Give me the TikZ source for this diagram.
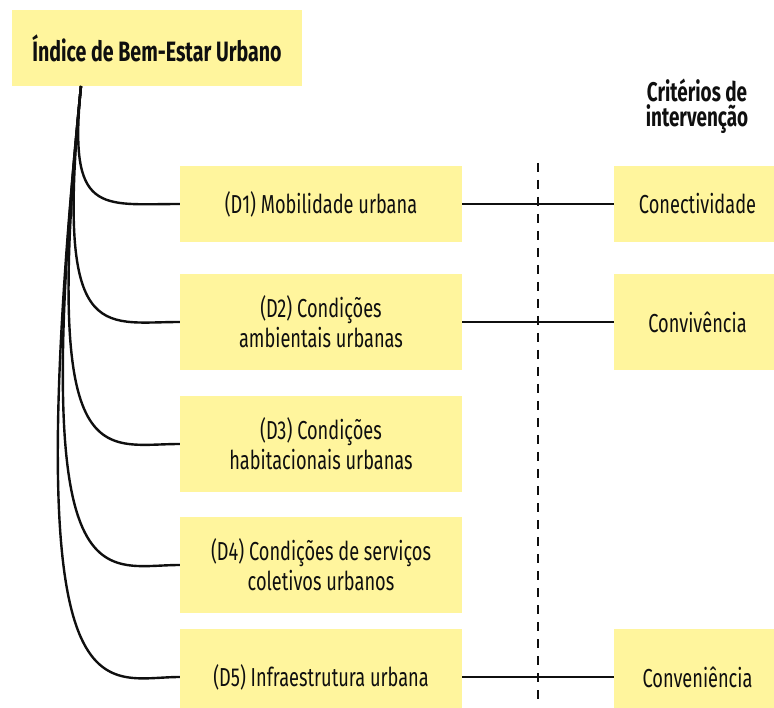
\documentclass[tikz,border=0pt]{standalone}
\usepackage{fontspec}
\setmainfont{Fira Sans}[FakeStretch=0.7]
\definecolor{boxyellow}{RGB}{255,245,157}
\definecolor{ink}{RGB}{15,15,15}
\begin{document}
\begin{tikzpicture}[x=1pt,y=-1pt,
  box/.style={fill=boxyellow, draw=none, inner sep=0pt, align=center, text=ink,
    font=\fontsize{26}{30}\selectfont},
  conn/.style={draw=ink, line width=2.4pt},
  sep/.style={draw=ink, line width=2.2pt, dash pattern=on 9pt off 8pt}]
\useasboundingbox (0,0) rectangle (774,708);
\node[box, minimum width=290pt, minimum height=76pt, font=\fontsize{28}{30}\selectfont\bfseries] (title) at (157,48) {Índice de Bem-Estar Urbano};
\node[box, minimum width=282pt, minimum height=76pt] (d1) at (321,204) {(D1) Mobilidade urbana};
\node[box, minimum width=282pt, minimum height=96pt] (d2) at (321,322) {(D2) Condições\\ambientais urbanas};
\node[box, minimum width=282pt, minimum height=96pt] (d3) at (321,444) {(D3) Condições\\habitacionais urbanas};
\node[box, minimum width=282pt, minimum height=96pt] (d4) at (321,565) {(D4) Condições de serviços\\coletivos urbanos};
\node[box, minimum width=282pt, minimum height=96pt] (d5) at (321,677) {(D5) Infraestrutura urbana};
\node[box, minimum width=167pt, minimum height=76pt] (c1) at (697.5,204) {Conectividade};
\node[box, minimum width=167pt, minimum height=96pt] (c2) at (697.5,322) {Convivência};
\node[box, minimum width=167pt, minimum height=96pt] (c3) at (697.5,677) {Conveniência};
\node[align=center, text=ink, font=\fontsize{27}{25}\selectfont\bfseries, inner sep=0pt] (hdr) at (697,106) {Critérios de\\intervenção};
\coordinate (root) at (81,86);
\coordinate (dtop) at (538,163);
\coordinate (dbot) at (538,700);
\draw[conn] (root) .. controls (68,216) and (100,204) .. (d1.west);
\draw[conn] (root) .. controls (55,346) and (100,322) .. (d2.west);
\draw[conn] (root) .. controls (42,480) and (100,444) .. (d3.west);
\draw[conn] (root) .. controls (28,613) and (100,565) .. (d4.west);
\draw[conn] (root) .. controls (16,736) and (100,677) .. (d5.west);
\draw[conn] (d1.east) -- (c1.west);
\draw[conn] (d2.east) -- (c2.west);
\draw[conn] (d5.east) -- (c3.west);
\draw[sep] (dtop) -- (dbot);
\end{tikzpicture}
\end{document}
